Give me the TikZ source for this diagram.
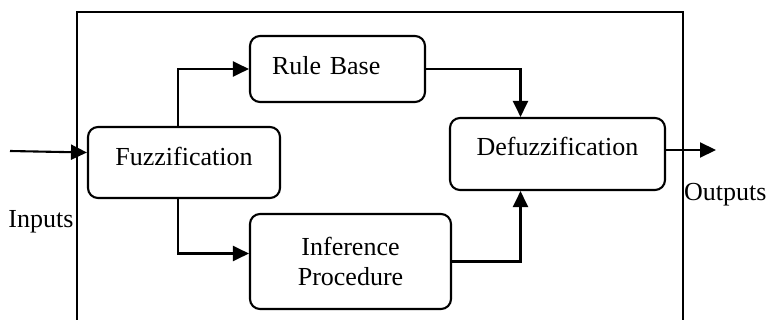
\documentclass[tikz,border=0pt]{standalone}
\usepackage{fontspec}
\setmainfont{Liberation Serif}
\usetikzlibrary{arrows.meta}
\tikzset{
  block/.style={draw, line width=2.1pt, rounded corners=10pt, inner sep=0pt,
    font=\fontsize{26}{30}\selectfont, align=center},
  flow/.style={line width=2.1pt, -{Triangle[length=16pt,width=15pt]}},
  frame/.style={line width=1.4pt},
  lbl/.style={font=\fontsize{26}{30}\selectfont, inner sep=0pt}
}
\begin{document}
\begin{tikzpicture}[x=1pt,y=-1pt]
      \useasboundingbox (0,0) rectangle (767,320);
      \draw[frame] (77,320) -- (77,12) -- (683,12) -- (683,320);
      \node[block, minimum width=192pt, minimum height=71pt, text depth=12pt]
        (fuzz) at (184,162.5) {Fuzzification};
      \node[block, minimum width=175pt, minimum height=66pt, text depth=8pt,
        text width=131pt, align=left]
        (rule) at (337.5,69) {Rule Base};
      \node[block, minimum width=201pt, minimum height=95pt]
        (infer) at (350.5,261.5) {Inference\\Procedure};
      \node[block, minimum width=215pt, minimum height=72pt, text depth=16pt]
        (defuzz) at (557.5,154) {Defuzzification};
      \coordinate (in) at (10,151);
      \coordinate (out) at (716,150);
      \node[lbl] (inputs) at (41,222) {Inputs};
      \node[lbl, anchor=west] (outputs) at (684,195) {Outputs};
      \begin{scope}[flow]
        \draw (in) -- ([yshift=10pt]fuzz.west);
        \draw ([xshift=-6pt]fuzz.north) |- (rule.west);
        \draw ([xshift=-6pt]fuzz.south) |- ([yshift=8pt]infer.west);
        \draw (rule.east) -| ([xshift=-37pt]defuzz.north);
        \draw (infer.east) -| ([xshift=-37pt]defuzz.south);
        \draw ([yshift=4pt]defuzz.east) -- (out);
      \end{scope}
\end{tikzpicture}
\end{document}
